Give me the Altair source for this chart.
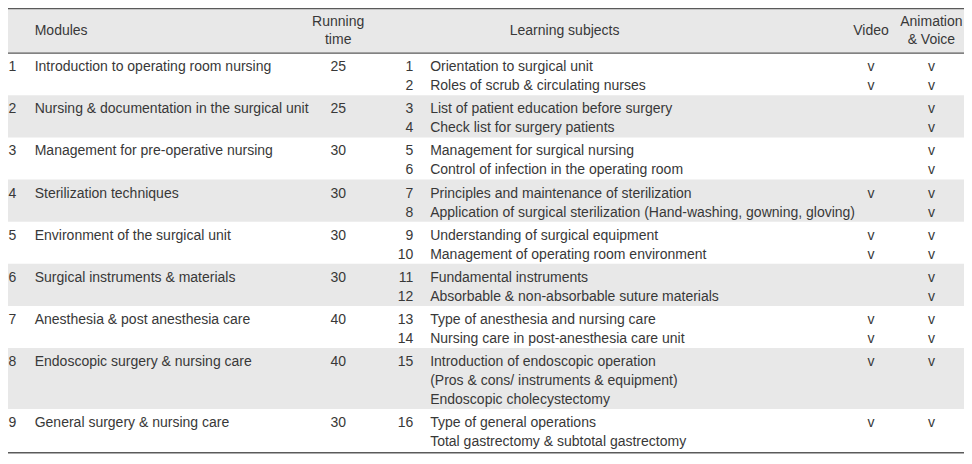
import altair as alt
import pandas as pd

# ---------------- data ----------------
module_names = [
    "Introduction to operating room nursing",
    "Nursing & documentation in the surgical unit",
    "Management for pre-operative nursing",
    "Sterilization techniques",
    "Environment of the surgical unit",
    "Surgical instruments & materials",
    "Anesthesia & post anesthesia care",
    "Endoscopic surgery & nursing care",
    "General surgery & nursing care",
]
running_time = [25, 25, 30, 30, 30, 30, 40, 40, 30]

subject_module = [1, 1, 2, 2, 3, 3, 4, 4, 5, 5, 6, 6, 7, 7, 8, 9]
subject_text = [
    "Orientation to surgical unit",
    "Roles of scrub & circulating nurses",
    "List of patient education before surgery",
    "Check list for surgery patients",
    "Management for surgical nursing",
    "Control of infection in the operating room",
    "Principles and maintenance of sterilization",
    "Application of surgical sterilization (Hand-washing, gowning, gloving)",
    "Understanding of surgical equipment",
    "Management of operating room environment",
    "Fundamental instruments",
    "Absorbable & non-absorbable suture materials",
    "Type of anesthesia and nursing care",
    "Nursing care in post-anesthesia care unit",
    "Introduction of endoscopic operation|(Pros & cons/ instruments & equipment)|Endoscopic cholecystectomy",
    "Type of general operations|Total gastrectomy & subtotal gastrectomy",
]
video = ["v", "v", "", "", "", "", "v", "", "v", "v", "", "", "v", "v", "v", "v"]
animation = ["v"] * 16

header_modules = "Modules"
header_time = ["Running", "time"]
header_subjects = "Learning subjects"
header_video = "Video"
header_anim = ["Animation", "& Voice"]

# ---------------- layout (reference pixel frame) ----------------
X_NUM, X_MOD, X_TIME, X_SNUM, X_SUBJ, X_VID, X_ANI, X_SUBJ_HEAD = 3.5, 30, 337, 413, 430, 876, 937, 566
TOP, HEAD_BOT = 2, 48
LINE_H, ROW_PAD, FIRST = 19.5, 4.4, 14.5
HEAD_MID, HEAD_L1, HEAD_L2 = 25, 16, 34.5

lines_per_module = []
for m in range(1, len(module_names) + 1):
    n = sum(len(t.split("|")) for t, mm in zip(subject_text, subject_module) if mm == m)
    lines_per_module.append(n)

row_start = []
y = HEAD_BOT
for n in lines_per_module:
    row_start.append(y)
    y += n * LINE_H + ROW_PAD
table_bottom = y + 1.5

left, center, right = [], [], []
rects = []
for i, (name, rt) in enumerate(zip(module_names, running_time)):
    y0 = row_start[i]
    left.append(dict(x=X_NUM, y=y0 + FIRST, t=str(i + 1)))
    left.append(dict(x=X_MOD, y=y0 + FIRST, t=name))
    center.append(dict(x=X_TIME, y=y0 + FIRST, t=str(rt)))
    if i % 2 == 1:
        rects.append(dict(x=0, x2=972, y=y0, y2=y0 + lines_per_module[i] * LINE_H + ROW_PAD))

line_idx = {m: 0 for m in range(1, len(module_names) + 1)}
for k, (t, m) in enumerate(zip(subject_text, subject_module)):
    y0 = row_start[m - 1] + FIRST + line_idx[m] * LINE_H
    right.append(dict(x=X_SNUM, y=y0, t=str(k + 1)))
    for j, part in enumerate(t.split("|")):
        left.append(dict(x=X_SUBJ, y=y0 + j * LINE_H, t=part))
    if video[k]:
        center.append(dict(x=X_VID, y=y0, t=video[k]))
    if animation[k]:
        center.append(dict(x=X_ANI, y=y0, t=animation[k]))
    line_idx[m] += len(t.split("|"))

# header
rects.append(dict(x=0, x2=972, y=TOP, y2=HEAD_BOT))
left.append(dict(x=X_MOD, y=HEAD_MID, t=header_modules))
center.append(dict(x=X_TIME, y=HEAD_L1, t=header_time[0]))
center.append(dict(x=X_TIME, y=HEAD_L2, t=header_time[1]))
center.append(dict(x=X_SUBJ_HEAD, y=HEAD_MID, t=header_subjects))
center.append(dict(x=X_VID, y=HEAD_MID, t=header_video))
center.append(dict(x=X_ANI, y=HEAD_L1, t=header_anim[0]))
center.append(dict(x=X_ANI, y=HEAD_L2, t=header_anim[1]))

rules = [
    dict(x=0, x2=972, y=TOP, w=1.6),
    dict(x=0, x2=972, y=HEAD_BOT, w=1.2),
    dict(x=0, x2=972, y=table_bottom, w=1.6),
]

# the page keeps an 8px margin on every side: fit the table into 956 x 448
xs = alt.Scale(domain=[3, 970], nice=False, zero=False)
ys = alt.Scale(domain=[1.5, 463], nice=False, zero=False, reverse=True)

FONT = "Liberation Sans"
TXT = "#383838"

bg = alt.Chart(pd.DataFrame(rects)).mark_rect(color="#e8e8e8", clip=True).encode(
    x=alt.X("x:Q", scale=xs, axis=None), x2="x2:Q",
    y=alt.Y("y:Q", scale=ys, axis=None), y2="y2:Q",
)
rl = alt.Chart(pd.DataFrame(rules)).mark_rule(color="#5a5a5a", clip=True).encode(
    x=alt.X("x:Q", scale=xs, axis=None), x2="x2:Q",
    y=alt.Y("y:Q", scale=ys, axis=None),
    strokeWidth=alt.StrokeWidth("w:Q", scale=None, legend=None),
)

def txt(rows, align):
    return alt.Chart(pd.DataFrame(rows)).mark_text(
        align=align, baseline="middle", font=FONT, fontSize=14, color=TXT
    ).encode(
        x=alt.X("x:Q", scale=xs, axis=None),
        y=alt.Y("y:Q", scale=ys, axis=None),
        text="t:N",
    )

chart = alt.layer(bg, rl, txt(left, "left"), txt(center, "center"), txt(right, "right")).properties(
    width=956, height=448, padding=0, autosize=alt.AutoSizeParams(type="none"),
    background="white",
).configure_view(stroke=None)

chart.save("out.html", embed_options={"renderer": "svg", "actions": False})
